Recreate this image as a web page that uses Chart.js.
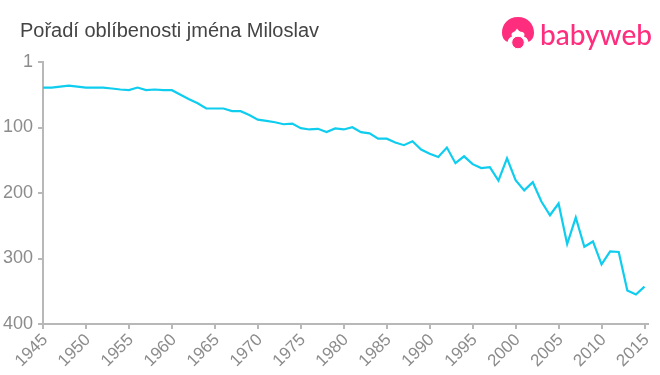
<!DOCTYPE html>
<html><head><meta charset="utf-8">
<style>
html,body{margin:0;padding:0;background:#fff;width:660px;height:375px;overflow:hidden}
#wrap{position:absolute;left:0;top:0;width:660px;height:375px}
#title{position:absolute;left:20px;top:19px;font:20px "Liberation Sans",Arial,sans-serif;color:#444;white-space:nowrap}
#logoText{position:absolute;left:540px;top:17px;font:500 28px "Lato",sans-serif;color:#ff2d7e;white-space:nowrap}
#logoIcon{position:absolute;left:500px;top:15px}
</style></head><body>
<div id="wrap">
<canvas id="c" width="660" height="375" style="position:absolute;left:0;top:0"></canvas>
<div id="title">Pořadí oblíbenosti jména Miloslav</div>
<svg id="logoIcon" width="36" height="36" viewBox="0 0 36 36">
<path fill="#ff2d7e" d="M18 2C8 2 2 9.500 2 17.500C2 22 4 25.500 7.500 27C8 24 10 22 12 21.500C11 19.500 11.500 17.500 13.500 17C15 16.500 16 15.500 17 13.500C18 15.500 20 16.800 22.500 17C24.500 17.500 25 19.500 24 21.500C26 22 28 24 28.500 27C32 25.500 34 22 34 17.500C34 9.500 28 2 18 2Z"/>
<circle cx="18" cy="27.500" r="6.300" fill="#ff2d7e" stroke="#fff" stroke-width="1"/>
</svg>
<div id="logoText">babyweb</div>
</div>
<script src="https://cdn.jsdelivr.net/npm/chart.js@4"></script>
<script>
const years=[1945,1946,1947,1948,1949,1950,1951,1952,1953,1954,1955,1956,1957,1958,1959,1960,1961,1962,1963,1964,1965,1966,1967,1968,1969,1970,1971,1972,1973,1974,1975,1976,1977,1978,1979,1980,1981,1982,1983,1984,1985,1986,1987,1988,1989,1990,1991,1992,1993,1994,1995,1996,1997,1998,1999,2000,2001,2002,2003,2004,2005,2006,2007,2008,2009,2010,2011,2012,2013,2014,2015];
const ranks=[39,39,37.5,36,37.5,39,39,39,40.5,42,43,39,43,42,43,43,50,57,63,71,71,71,75,75,81,88,90,92,95,94,101,103,102,107,101.5,103,99.6,107,109,117,117,123,127,121,133.6,140,145,130.6,154.5,144,156,162,160.6,181,147,180.5,196,183.5,213,234,216,278,237.5,282,274,309,289,290,349,355,343];
const yTickValues=[0,100,200,300,400];
const yTickLabels=['1','100','200','300','400'];
const gray='#b8b8b8', tickColor='#8c8c8c';
new Chart(document.getElementById('c'),{
 type:'line',
 data:{datasets:[{data:years.map((y,i)=>({x:y,y:ranks[i]})),borderColor:'#0fcdee',borderWidth:2.2,pointRadius:0,tension:0,fill:false,clip:false}]},
 options:{
  responsive:false,animation:false,
  layout:{padding:{left:0,right:11,top:62,bottom:0}},
  plugins:{legend:{display:false},title:{display:false},tooltip:{enabled:false}},
  scales:{
   x:{type:'linear',min:1945,max:2015.45,
      border:{color:gray,width:2},
      grid:{drawOnChartArea:false,color:gray,tickLength:5,lineWidth:2},
      afterFit(s){s.height=51;},
      ticks:{stepSize:5,includeBounds:false,autoSkip:false,maxRotation:45,minRotation:45,labelOffset:2,color:tickColor,font:{family:'"Liberation Sans",Arial,sans-serif',size:17},padding:1,callback:v=>String(v)}},
   y:{type:'linear',reverse:true,min:0,max:400,
      border:{color:gray,width:2},
      grid:{drawOnChartArea:false,color:gray,tickLength:5,lineWidth:2},
      afterFit(s){s.width=43;},
      afterBuildTicks(s){s.ticks=yTickValues.map(v=>({value:v}));},
      ticks:{color:tickColor,font:{family:'"Liberation Sans",Arial,sans-serif',size:18},padding:5,callback:(v,i)=>yTickLabels[i]}}
  }
 }
});
</script>
</body></html>
